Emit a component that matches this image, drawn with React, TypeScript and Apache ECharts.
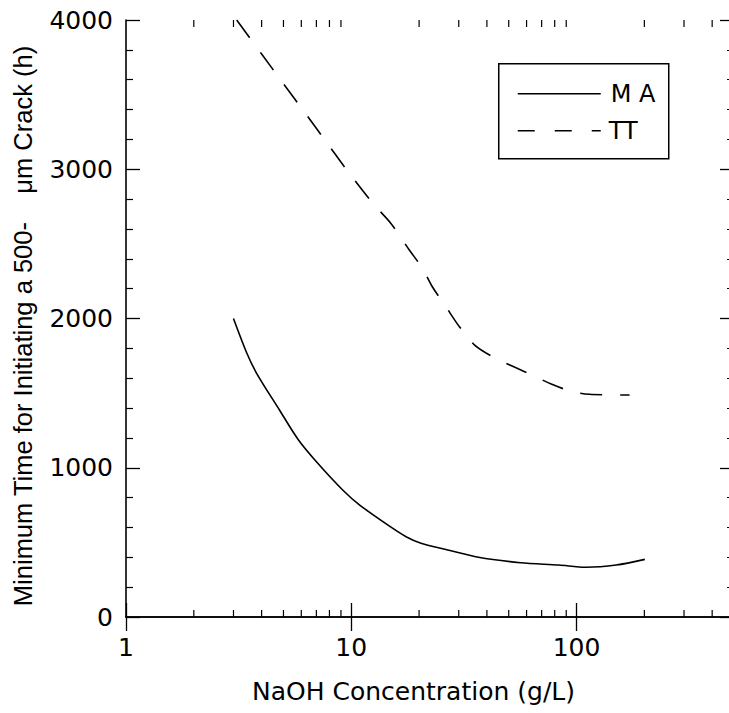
import React, { useEffect, useRef } from "react";
import * as echarts from "echarts";

// NaOH concentration (g/L) and minimum time (h)
const maX = [3, 3.44, 3.8, 4.8, 5.83, 7.1, 9.16, 10.9, 14.9, 17.5, 20.4, 26.8, 36.7, 56.4, 83.4, 110, 150, 201];
const maY = [2000, 1767, 1633, 1387, 1186, 1030, 851, 750, 605, 538, 494, 449, 400, 364, 348, 333, 348, 386];

const ttX = [3.1, 4, 5, 6.3, 8, 9.5, 12.5, 15, 18.1, 20.7, 22.9, 26.3, 30.2, 35.3, 42.9, 53.3, 63.5, 77.2, 95.7, 114, 172];
const ttY = [4000, 3772, 3573, 3368, 3154, 3000, 2770, 2637, 2459, 2336, 2213, 2079, 1945, 1822, 1740, 1673, 1621, 1561, 1510, 1492, 1487];

const xMajorLabels = [1, 10, 100];
const xMinorTicks = [2, 3, 4, 5, 6, 7, 8, 9, 20, 30, 40, 50, 60, 70, 80, 90, 200, 300, 400];
const legendNames = ["M A", "TT"];

const FONT = "'DejaVu Sans', Verdana, sans-serif";
const TITLE_FONT = "'Liberation Sans', Arial, Helvetica, sans-serif";

export default function App() {
  const ref = useRef<HTMLDivElement>(null);
  useEffect(() => {
    if (!ref.current) return;
    const chart = echarts.init(ref.current, undefined, { renderer: "svg" });
    const xMin = 1;
    const xMax = 500;
    const yMin = 0;
    const yMax = 4000;
    const common = {
      axisLine: { show: true, lineStyle: { color: "#000", width: 1.6 } },
      splitLine: { show: false },
    };
    const tick = { show: true, inside: true, length: 14, lineStyle: { color: "#000", width: 1.3 } };
    const minor = { show: true, splitNumber: 5, length: 7, lineStyle: { color: "#000", width: 1.2 } };
    chart.setOption({
      animation: false,
      backgroundColor: "#fff",
      grid: { left: 126, top: 20, width: 608, height: 597, containLabel: false, outerBoundsMode: "none" },
      xAxis: [
        {
          type: "log",
          logBase: 10,
          min: xMin,
          max: xMax,
          position: "bottom",
          ...common,
          axisTick: tick,
          axisLabel: {
            color: "#000",
            fontSize: 25,
            fontFamily: FONT,
            margin: 18,
            showMaxLabel: false,
            formatter: (v: number) => (xMajorLabels.indexOf(Math.round(v)) >= 0 ? String(Math.round(v)) : ""),
          },
          name: "NaOH Concentration (g/L)",
          nameLocation: "middle",
          nameGap: 62,
          nameTextStyle: { color: "#000", fontSize: 25, fontFamily: FONT, padding: [0, 33, 0, 0] },
        },
        {
          type: "log",
          logBase: 10,
          min: xMin,
          max: xMax,
          position: "top",
          ...common,
          axisTick: tick,
          axisLabel: { show: false },
        },
      ],
      yAxis: [
        {
          type: "value",
          min: yMin,
          max: yMax,
          interval: 1000,
          position: "left",
          ...common,
          axisTick: tick,
          minorTick: minor,
          minorSplitLine: { show: false },
          axisLabel: { color: "#000", fontSize: 25, fontFamily: FONT, margin: 13, formatter: (v: number) => String(v) },
          name: "Minimum Time for Initiating a 500-    \u03bcm Crack (h)",
          nameLocation: "middle",
          nameGap: 90,
          nameRotate: 90,
          nameTextStyle: { color: "#000", fontSize: 25.5, fontFamily: TITLE_FONT, padding: [0, 15, 0, 0] },
        },
        {
          type: "value",
          min: yMin,
          max: yMax,
          interval: 1000,
          position: "right",
          ...common,
          axisTick: tick,
          minorTick: minor,
          minorSplitLine: { show: false },
          axisLabel: { show: false },
        },
      ],
      graphic: [
        {
          type: "group",
          left: 498,
          top: 63,
          children: [
            { type: "rect", shape: { x: 0, y: 0, width: 170, height: 95 }, style: { fill: "#fff", stroke: "#000", lineWidth: 1.5 } },
            { type: "line", shape: { x1: 19, y1: 30, x2: 102, y2: 30 }, style: { stroke: "#000", lineWidth: 1.6 } },
            { type: "line", shape: { x1: 19, y1: 67, x2: 102, y2: 67 }, style: { stroke: "#000", lineWidth: 1.6, lineDash: [17, 20] } },
            { type: "text", x: 112, y: 30, style: { text: legendNames[0], fill: "#000", fontSize: 24, fontFamily: FONT, verticalAlign: "middle", align: "left" } },
            { type: "text", x: 110, y: 67, style: { text: legendNames[1], fill: "#000", fontSize: 24, fontFamily: FONT, verticalAlign: "middle", align: "left" } },
          ],
        },
      ],
      series: [
        {
          name: "MA",
          type: "line",
          data: maX.map((x, i) => [x, maY[i]]),
          showSymbol: false,
          symbol: "none",
          smooth: 0.3,
          lineStyle: { color: "#000", width: 1.6, type: "solid" },
        },
        {
          name: "TT",
          type: "line",
          data: ttX.map((x, i) => [x, ttY[i]]),
          showSymbol: false,
          symbol: "none",
          smooth: 0.3,
          lineStyle: { color: "#000", width: 1.6, type: [22, 18] },
        },
        {
          name: "minorX",
          type: "custom",
          silent: true,
          clip: false,
          data: xMinorTicks.map((v) => [v, yMin]),
          encode: { x: 0, y: 1 },
          renderItem: (_p: any, api: any) => {
            const v = api.value(0);
            const b = api.coord([v, yMin]);
            const t = api.coord([v, yMax]);
            const style = { stroke: "#000", lineWidth: 1.2 };
            return {
              type: "group",
              children: [
                { type: "line", shape: { x1: b[0], y1: b[1], x2: b[0], y2: b[1] - 7 }, style },
                { type: "line", shape: { x1: t[0], y1: t[1], x2: t[0], y2: t[1] + 7 }, style },
              ],
            };
          },
        },
      ],
    });
    return () => chart.dispose();
  }, []);
  return <div ref={ref} style={{ position: "absolute", left: 0, top: 0, width: 729, height: 713 }} />;
}
